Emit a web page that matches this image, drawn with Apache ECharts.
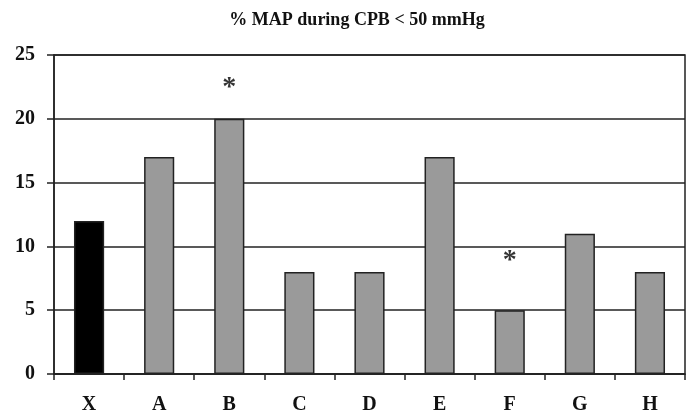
<!DOCTYPE html>
<html>
<head>
<meta charset="utf-8">
<script src="https://cdn.jsdelivr.net/npm/echarts@6/dist/echarts.min.js"></script>
<style>html,body{margin:0;padding:0;background:#fff}#c{width:689px;height:413px}</style>
</head>
<body>
<div id="c"></div>
<script>
const titleText = "% MAP during CPB < 50 mmHg";
const categories = ["X", "A", "B", "C", "D", "E", "F", "G", "H"];
const values = [12, 17, 20, 8, 8, 17, 5, 11, 8];
const asteriskPos = [null, null, 22.7, null, null, null, 9.1, null, null];
const yTicks = [0, 5, 10, 15, 20, 25];

const serif = '"Liberation Serif", "DejaVu Serif", serif';
const chart = echarts.init(document.getElementById('c'), null, {renderer: 'canvas'});
chart.setOption({
  backgroundColor: '#ffffff',
  animation: false,
  title: {
    text: titleText, left: 352, top: 6, textAlign: 'center',
    textStyle: {fontFamily: serif, fontWeight: 'bold', fontSize: 18, color: '#111'}
  },
  grid: {left: 54, right: 4, top: 55, bottom: 39, outerBoundsMode: 'none', containLabel: false,
         show: true, borderColor: '#222', borderWidth: 1.5, backgroundColor: 'transparent'},
  xAxis: {
    type: 'category', data: categories,
    axisLine: {lineStyle: {color: '#222', width: 1.5}},
    axisTick: {show: true, length: 6, lineStyle: {color: '#222', width: 1.5}},
    axisLabel: {fontFamily: serif, fontWeight: 'bold', fontSize: 20, color: '#111', margin: 21}
  },
  yAxis: {
    type: 'value', min: yTicks[0], max: yTicks[yTicks.length - 1], interval: 5,
    axisLine: {show: true, lineStyle: {color: '#222', width: 1.5}},
    axisTick: {show: true, length: 7, lineStyle: {color: '#222', width: 1.5}},
    axisLabel: {fontFamily: serif, fontWeight: 'bold', fontSize: 20, color: '#111', margin: 19},
    splitLine: {lineStyle: {color: '#222', width: 1.5}}
  },
  series: [
    {
      type: 'bar', barWidth: '43%',
      data: values.map((v, i) => ({
        value: v,
        itemStyle: {color: i === 0 ? '#000000' : '#9a9a9a', borderColor: '#222', borderWidth: 1.5}
      })),
      z: 3
    },
    {
      type: 'scatter', symbolSize: 0,
      data: asteriskPos,
      label: {show: true, position: 'inside', formatter: '*', fontFamily: serif, fontWeight: 'bold', fontSize: 28, color: '#000', offset: [0, 3]},
      z: 4
    }
  ]
});
</script>
</body>
</html>
